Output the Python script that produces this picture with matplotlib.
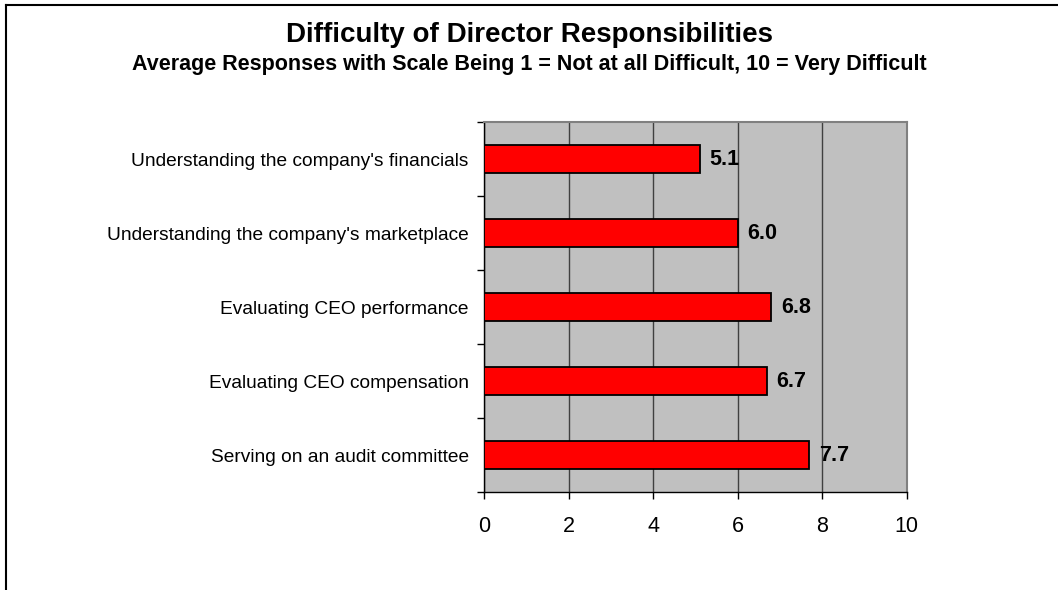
import numpy as np
import matplotlib.pyplot as plt
from matplotlib.lines import Line2D

plt.rcParams['font.family'] = ['Liberation Sans', 'DejaVu Sans']

# data
categories = [
    "Understanding the company's financials",
    "Understanding the company's marketplace",
    "Evaluating CEO performance",
    "Evaluating CEO compensation",
    "Serving on an audit committee",
]
scores = [5.1, 6.0, 6.8, 6.7, 7.7]
x_ticks = [0, 2, 4, 6, 8, 10]

fig = plt.figure(figsize=(10.58, 5.9), dpi=100)
ax = fig.add_axes([0.4575, 0.166, 0.3995, 0.627])

ypos = np.arange(len(categories))
ax.set_facecolor('#c0c0c0')
ax.barh(ypos, scores, height=0.38, color='#ff0000', edgecolor='black',
        linewidth=1.3, zorder=3)

for y, v in zip(ypos, scores):
    ax.text(v + 0.22, y, f'{v:.1f}', va='center', ha='left', fontsize=15.5,
            fontweight='bold', zorder=4)

ax.set_xlim(0, 10)
ax.set_ylim(len(categories) - 0.5, -0.5)
ax.set_xticks(x_ticks)
ax.set_xticklabels([str(t) for t in x_ticks], fontsize=15.5)
ax.set_yticks(ypos)
ax.set_yticklabels(categories, fontsize=13.8)
ax.tick_params(axis='y', length=0, pad=11)
ax.set_yticks(np.arange(len(categories) + 1) - 0.5, minor=True)
ax.tick_params(axis='y', which='minor', length=5, direction='out', width=1)
ax.tick_params(axis='x', length=5, direction='out', width=1, pad=12)

ax.xaxis.grid(True, color='#404040', linewidth=1)
ax.set_axisbelow(True)
for side in ['top', 'right']:
    ax.spines[side].set_color('#808080')
    ax.spines[side].set_linewidth(1.5)
for side in ['left', 'bottom']:
    ax.spines[side].set_color('black')
    ax.spines[side].set_linewidth(1)

fig.text(0.5, 0.94, 'Difficulty of Director Responsibilities', ha='center',
         va='center', fontsize=20, fontweight='bold')
fig.text(0.5, 0.891, 'Average Responses with Scale Being 1 = Not at all Difficult, 10 = Very Difficult',
         ha='center', va='center', fontsize=15.5, fontweight='bold')

# chart frame (left and top edges)
fig.add_artist(Line2D([0.006, 0.006], [0, 0.992], color='black', linewidth=1.5,
                      transform=fig.transFigure))
fig.add_artist(Line2D([0.006, 1], [0.992, 0.992], color='black', linewidth=1.5,
                      transform=fig.transFigure))

fig.savefig('out.png', dpi=100)
